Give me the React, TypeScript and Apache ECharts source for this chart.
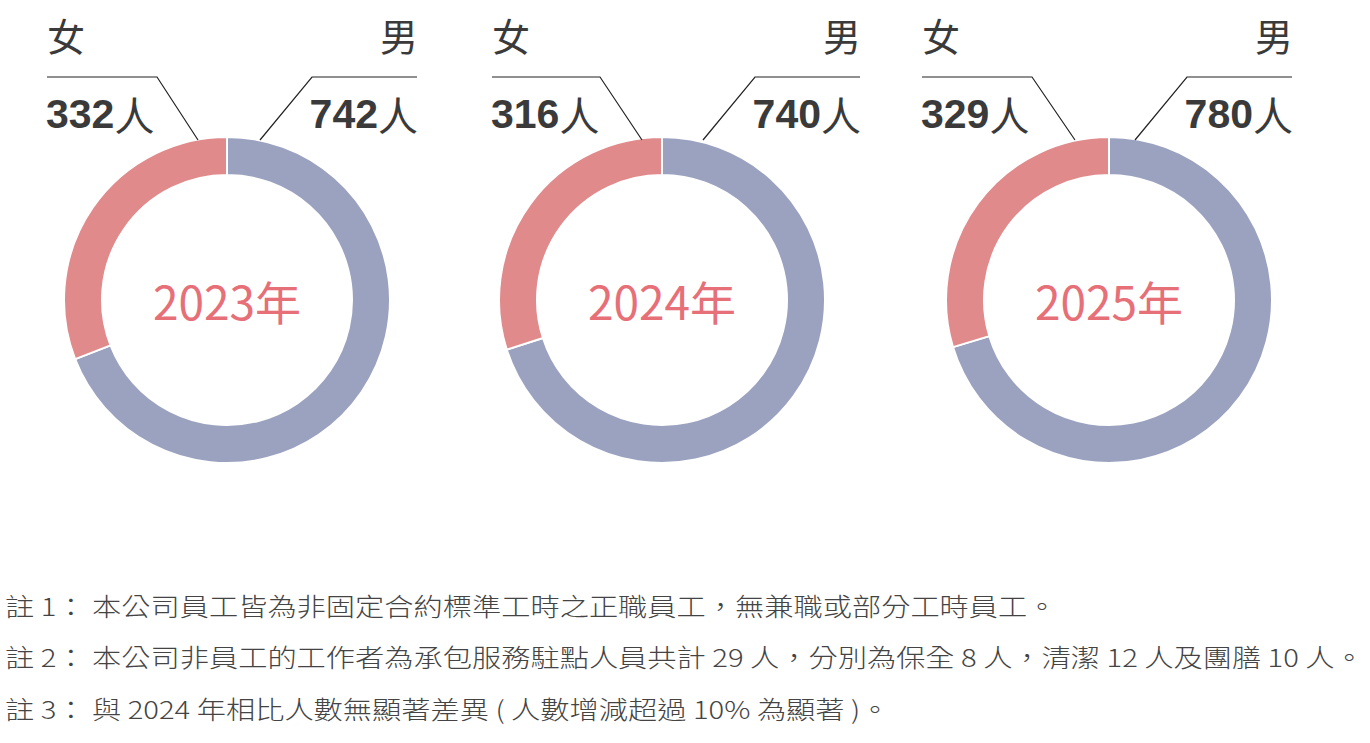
import React, { useEffect, useRef } from "react";
import * as echarts from "echarts";

const years = ["2023年", "2024年", "2025年"];
const femaleCounts = [332, 316, 329];
const maleCounts = [742, 740, 780];
const genderNames = ["女", "男"];
const unit = "人";
const notes = [
  "註 1： 本公司員工皆為非固定合約標準工時之正職員工，無兼職或部分工時員工。",
  "註 2： 本公司非員工的工作者為承包服務駐點人員共計 29 人，分別為保全 8 人，清潔 12 人及團膳 10 人。",
  "註 3： 與 2024 年相比人數無顯著差異 ( 人數增減超過 10% 為顯著 )。",
];

const W = 1370;
const H = 743;
const centersX = [227, 662, 1109];
const CY = 300;
const layout = [
  { lLeft: 47, lEnd: 157, lDiag: 198, rStart: 312, rEnd: 417, rDiag: 260 },
  { lLeft: 492, lEnd: 600, lDiag: 642, rStart: 755, rEnd: 860, rDiag: 703 },
  { lLeft: 922, lEnd: 1032, lDiag: 1075, rStart: 1187, rEnd: 1292, rDiag: 1135 },
];
const MALE_COLOR = "#9aa2bf";
const FEMALE_COLOR = "#e08a8c";
const YEAR_COLOR = "#e66f78";
const TEXT_COLOR = "#3a3a3a";
const NOTE_COLOR = "#444444";
const CJK = '"Noto Sans CJK TC", "Noto Sans", sans-serif';

export default function App() {
  const ref = useRef<HTMLDivElement>(null);
  useEffect(() => {
    document.body.style.margin = "0";
    const chart = echarts.init(ref.current!, null, { renderer: "svg" });
    const series: any[] = years.map((y, i) => ({
      type: "pie",
      center: [centersX[i], CY],
      radius: [125, 163],
      startAngle: 90,
      clockwise: true,
      silent: true,
      label: { show: false },
      labelLine: { show: false },
      itemStyle: { borderColor: "#ffffff", borderWidth: 2 },
      data: [
        { name: genderNames[1], value: maleCounts[i], itemStyle: { color: MALE_COLOR } },
        { name: genderNames[0], value: femaleCounts[i], itemStyle: { color: FEMALE_COLOR } },
      ],
    }));
    const graphic: any[] = [];
    years.forEach((y, i) => {
      const L = layout[i];
      graphic.push({
        type: "text",
        x: centersX[i],
        y: CY,
        style: {
          text: y,
          fill: YEAR_COLOR,
          font: `400 46px ${CJK}`,
          textAlign: "center",
          textVerticalAlign: "middle",
          align: "center",
          verticalAlign: "middle",
        },
      });
      graphic.push({
        type: "text",
        x: L.lLeft,
        y: 34,
        style: {
          text: genderNames[0],
          fill: TEXT_COLOR,
          font: `400 38px ${CJK}`,
          textAlign: "left",
          textVerticalAlign: "middle",
          align: "left",
          verticalAlign: "middle",
        },
      });
      graphic.push({
        type: "text",
        x: L.rEnd + 1,
        y: 34,
        style: {
          text: genderNames[1],
          fill: TEXT_COLOR,
          font: `400 38px ${CJK}`,
          textAlign: "right",
          textVerticalAlign: "middle",
          align: "right",
          verticalAlign: "middle",
        },
      });
      const rich = {
        n: { font: `700 41px "Liberation Sans", Arial, sans-serif`, fill: TEXT_COLOR, fontWeight: 700, fontSize: 41, fontFamily: '"Liberation Sans", Arial, sans-serif', color: TEXT_COLOR },
        u: { font: `400 40px ${CJK}`, fill: TEXT_COLOR, fontSize: 40, fontFamily: CJK, color: TEXT_COLOR },
      };
      graphic.push({
        type: "text",
        x: L.lLeft - 1,
        y: 114,
        style: {
          text: `{n|${femaleCounts[i]}}{u|${unit}}`,
          rich,
          textAlign: "left",
          textVerticalAlign: "middle",
          align: "left",
          verticalAlign: "middle",
        },
      });
      graphic.push({
        type: "text",
        x: L.rEnd + 1,
        y: 114,
        style: {
          text: `{n|${maleCounts[i]}}{u|${unit}}`,
          rich,
          textAlign: "right",
          textVerticalAlign: "middle",
          align: "right",
          verticalAlign: "middle",
        },
      });
      graphic.push({
        type: "polyline",
        shape: { points: [[L.lLeft, 77], [L.lEnd, 77], [L.lDiag, 140]] },
        style: { stroke: "#222", lineWidth: 1.2, fill: null },
        z: 10,
      });
      graphic.push({
        type: "polyline",
        shape: { points: [[L.rEnd, 77], [L.rStart, 77], [L.rDiag, 140]] },
        style: { stroke: "#222", lineWidth: 1.2, fill: null },
        z: 10,
      });
    });
    const noteY = [605, 656, 708];
    notes.forEach((t, i) => {
      graphic.push({
        type: "text",
        x: 5,
        y: noteY[i],
        scaleX: 1.17,
        style: {
          text: t,
          fill: NOTE_COLOR,
          font: `300 25px ${CJK}`,
          textAlign: "left",
          textVerticalAlign: "middle",
          align: "left",
          verticalAlign: "middle",
        },
      });
    });
    chart.setOption({
      animation: false,
      backgroundColor: "#ffffff",
      series,
      graphic: { elements: graphic },
    });
    return () => chart.dispose();
  }, []);
  return <div ref={ref} style={{ width: W, height: H }} />;
}
